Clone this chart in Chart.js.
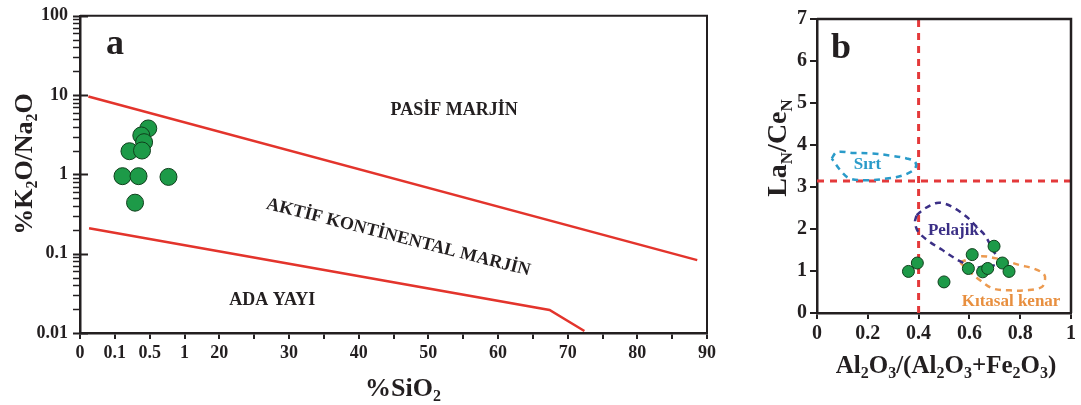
<!DOCTYPE html>
<html>
<head>
<meta charset="utf-8">
<title>Tektonik ortam diyagramları</title>
<script src="https://cdn.jsdelivr.net/npm/chart.js@4/dist/chart.umd.min.js"></script>
<style>
  html, body { margin: 0; padding: 0; background: #fff; }
  #wrap { position: relative; width: 1081px; height: 405px; overflow: hidden; }
  #panelA { position: absolute; left: 0; top: 0; width: 720px; height: 405px; }
  #panelB { position: absolute; left: 720px; top: 0; width: 361px; height: 405px; }
</style>
</head>
<body>
<div id="wrap">
  <canvas id="panelA" width="720" height="405"></canvas>
  <canvas id="panelB" width="361" height="405"></canvas>
</div>
<script>
// ---------- Panel a: K2O/Na2O vs SiO2 ----------
const siO2TickValues = [0, 5, 10, 15, 20, 25, 30, 35, 40, 45, 50, 55, 60, 65, 70, 75, 80, 85, 90];
const siO2TickLabels = ['0', '0.1', '0.5', '1', '20', '', '30', '', '40', '', '50', '', '60', '', '70', '', '80', '', '90'];
const ratioTickValues = [0.01, 0.1, 1, 10, 100];
const ratioTickLabels = ['0.01', '0.1', '1', '10', '100'];

const sampleSiO2 = [9.8, 8.8, 9.2, 7.1, 8.9, 6.1, 8.4, 12.7, 7.9];
const sampleK2ONa2O = [3.8, 3.1, 2.55, 1.96, 2.0, 0.95, 0.95, 0.93, 0.44];

const passiveActiveSiO2 = [1.2, 88.6];
const passiveActiveRatio = [9.6, 0.083];
const activeArcSiO2 = [1.3, 67.4, 72.4];
const activeArcRatio = [0.21, 0.0195, 0.0106];

// ---------- Panel b: LaN/CeN vs Al2O3/(Al2O3+Fe2O3) ----------
const alTickValues = [0, 0.2, 0.4, 0.6, 0.8, 1];
const alTickLabels = ['0', '0.2', '0.4', '0.6', '0.8', '1'];
const laCeTickValues = [0, 1, 2, 3, 4, 5, 6, 7];
const laCeTickLabels = ['0', '1', '2', '3', '4', '5', '6', '7'];

const sampleAlRatio = [0.36, 0.395, 0.50, 0.596, 0.611, 0.652, 0.672, 0.697, 0.73, 0.756];
const sampleLaCe = [0.99, 1.19, 0.74, 1.06, 1.39, 0.98, 1.06, 1.59, 1.19, 0.99];

const alLimit = 0.4;
const laCeLimit = 3.14;

const sirtAl = [0.058, 0.078, 0.143, 0.215, 0.287, 0.353, 0.386, 0.386, 0.34, 0.274, 0.196, 0.13, 0.097, 0.058];
const sirtLaCe = [3.68, 3.83, 3.81, 3.80, 3.75, 3.68, 3.60, 3.44, 3.28, 3.20, 3.16, 3.20, 3.36, 3.68];

const pelajikAl = [0.392, 0.425, 0.471, 0.504, 0.543, 0.589, 0.629, 0.661, 0.693, 0.72, 0.615, 0.57, 0.53, 0.491, 0.445, 0.399, 0.386, 0.392];
const pelajikLaCe = [2.33, 2.49, 2.62, 2.60, 2.49, 2.29, 2.05, 1.85, 1.49, 1.20, 1.08, 1.21, 1.35, 1.51, 1.69, 1.93, 2.16, 2.33];

const kitasalAl = [0.563, 0.642, 0.72, 0.799, 0.852, 0.891, 0.898, 0.885, 0.826, 0.76, 0.694, 0.642, 0.594, 0.563];
const kitasalLaCe = [1.21, 1.35, 1.28, 1.14, 1.06, 0.94, 0.82, 0.62, 0.54, 0.54, 0.58, 0.78, 1.02, 1.21];

// ---------- helpers ----------
const zip = (xs, ys) => xs.map((x, i) => ({ x: x, y: ys[i] }));
const INK = '#231f20';
const SERIF = '"Liberation Serif", "Times New Roman", serif';
const bold = (size) => `bold ${size}px ${SERIF}`;

// text with single-character subscripts marked by "_"
function richParts(str) {
  const parts = [];
  for (let i = 0; i < str.length; i++) {
    if (str[i] === '_') { parts.push({ t: str[i + 1], sub: true }); i++; }
    else if (parts.length && !parts[parts.length - 1].sub) parts[parts.length - 1].t += str[i];
    else parts.push({ t: str[i], sub: false });
  }
  return parts;
}
function drawRich(ctx, str, size, cx, cy, rot) {
  const parts = richParts(str);
  const subSize = Math.round(size * 0.62);
  ctx.save();
  ctx.translate(cx, cy);
  ctx.rotate(rot);
  ctx.fillStyle = INK;
  ctx.textAlign = 'left';
  ctx.textBaseline = 'alphabetic';
  let w = 0;
  parts.forEach(p => { ctx.font = bold(p.sub ? subSize : size); p.w = ctx.measureText(p.t).width; w += p.w; });
  let x = -w / 2;
  parts.forEach(p => {
    ctx.font = bold(p.sub ? subSize : size);
    ctx.fillText(p.t, x, p.sub ? size * 0.2 : 0);
    x += p.w;
  });
  ctx.restore();
}
function label(ctx, text, x, y, size, color, rot) {
  ctx.save();
  ctx.translate(x, y);
  ctx.rotate(rot || 0);
  ctx.font = bold(size);
  ctx.fillStyle = color;
  ctx.textAlign = 'center';
  ctx.textBaseline = 'middle';
  ctx.fillText(text, 0, 0);
  ctx.restore();
}
function frame(chart, width) {
  const a = chart.chartArea, ctx = chart.ctx;
  ctx.save();
  ctx.strokeStyle = INK;
  ctx.lineWidth = width;
  ctx.beginPath();
  ctx.moveTo(a.left, a.top);
  ctx.lineTo(a.right, a.top);
  ctx.lineTo(a.right, a.bottom);
  ctx.stroke();
  ctx.restore();
}
const tickFont = (size) => ({ family: SERIF, size: size, weight: 'bold' });

const baseOptions = {
  responsive: false,
  animation: false,
  events: [],
  plugins: { legend: { display: false }, tooltip: { enabled: false } }
};

// ---------- Panel a chart ----------
const logTickValues = [];
for (let e = -2; e <= 1; e++) {
  for (let k = 1; k <= 9; k++) logTickValues.push(+(k * Math.pow(10, e)).toPrecision(3));
}
logTickValues.push(100);
const isRatioMajor = v => ratioTickValues.some(t => Math.abs(t - v) / t < 1e-6);

const panelAText = {
  id: 'panelAText',
  afterDraw(chart) {
    const ctx = chart.ctx, a = chart.chartArea;
    const xs = chart.scales.x, ys = chart.scales.y;
    frame(chart, 2);
    // log-axis tick comb: minor ticks outside, decade ticks crossing the axis
    ctx.save();
    ctx.strokeStyle = INK;
    logTickValues.forEach(v => {
      const py = Math.round(ys.getPixelForValue(v)) + 0.5;
      const major = isRatioMajor(v);
      ctx.lineWidth = major ? 2 : 1.5;
      ctx.beginPath();
      ctx.moveTo(a.left - 7, py);
      ctx.lineTo(major ? a.left + 8 : a.left, py);
      ctx.stroke();
    });
    ctx.restore();
    // panel letter
    ctx.save();
    ctx.font = bold(36); ctx.fillStyle = INK; ctx.textBaseline = 'alphabetic';
    ctx.fillText('a', a.left + 26, a.top + 38);
    ctx.restore();
    // field names
    label(ctx, 'PASİF MARJİN', xs.getPixelForValue(53.7), ys.getPixelForValue(6.4), 18, INK, 0);
    label(ctx, 'AKTİF KONTİNENTAL MARJİN', xs.getPixelForValue(45.7), ys.getPixelForValue(0.16), 18, INK, 14.3 * Math.PI / 180);
    label(ctx, 'ADA YAYI', xs.getPixelForValue(27.6), ys.getPixelForValue(0.026), 18, INK, 0);
    // axis titles
    drawRich(ctx, '%K_2O/Na_2O', 26, 32, 164, -Math.PI / 2);
    drawRich(ctx, '%SiO_2', 26, 403, 396, 0);
  }
};

new Chart(document.getElementById('panelA'), {
  type: 'scatter',
  data: {
    datasets: [
      {
        data: zip(sampleSiO2, sampleK2ONa2O),
        pointRadius: 8.5,
        backgroundColor: '#1d9a48',
        borderColor: '#0f3f1c',
        borderWidth: 1,
        order: 0
      },
      {
        type: 'line',
        data: zip(passiveActiveSiO2, passiveActiveRatio),
        borderColor: '#e3342c',
        borderWidth: 2.5,
        pointRadius: 0,
        fill: false,
        order: 1
      },
      {
        type: 'line',
        data: zip(activeArcSiO2, activeArcRatio),
        borderColor: '#e3342c',
        borderWidth: 2.5,
        pointRadius: 0,
        fill: false,
        order: 1
      }
    ]
  },
  options: Object.assign({}, baseOptions, {
    layout: { padding: { left: 0, top: 15, right: 10, bottom: 0 } },
    scales: {
      x: {
        type: 'linear', min: 0, max: 90,
        afterBuildTicks: s => { s.ticks = siO2TickValues.map(v => ({ value: v })); },
        afterFit: s => { s.height = 72; },
        ticks: {
          autoSkip: false, maxRotation: 0, padding: 4, color: INK, font: tickFont(18),
          callback: (v, i) => siO2TickLabels[i]
        },
        grid: { drawOnChartArea: false, tickLength: 6, color: INK, lineWidth: 2 },
        border: { width: 2.5, color: INK }
      },
      y: {
        type: 'logarithmic', min: 0.01, max: 100,
        afterBuildTicks: s => { s.ticks = ratioTickValues.map(v => ({ value: v, major: true })); },
        afterFit: s => { s.width = 80; },
        ticks: {
          autoSkip: false, padding: 5, color: INK, font: tickFont(18),
          callback: (v, i) => ratioTickLabels[i]
        },
        grid: { drawOnChartArea: false, tickLength: 7, color: 'rgba(0,0,0,0)' },
        border: { width: 2.5, color: INK }
      }
    }
  }),
  plugins: [panelAText]
});

// ---------- Panel b chart ----------
const panelBText = {
  id: 'panelBText',
  afterDraw(chart) {
    const ctx = chart.ctx, a = chart.chartArea;
    const xs = chart.scales.x, ys = chart.scales.y;
    frame(chart, 2.5);
    ctx.save();
    ctx.font = bold(36); ctx.fillStyle = INK; ctx.textBaseline = 'alphabetic';
    ctx.fillText('b', a.left + 14, a.top + 39);
    ctx.restore();
    label(ctx, 'Sırt', xs.getPixelForValue(0.199), ys.getPixelForValue(3.54), 17, '#2a9bc9', 0);
    label(ctx, 'Pelajik', xs.getPixelForValue(0.537), ys.getPixelForValue(1.97), 17, '#3b2f86', 0);
    label(ctx, 'Kıtasal kenar', xs.getPixelForValue(0.764), ys.getPixelForValue(0.27), 17, '#e88f3f', 0);
    drawRich(ctx, 'La_N/Ce_N', 28, 66, 148, -Math.PI / 2);
    drawRich(ctx, 'Al_2O_3/(Al_2O_3+Fe_2O_3)', 25, 226, 373, 0);
  }
};

const outline = (xs, ys, color) => ({
  type: 'line',
  data: zip(xs, ys),
  borderColor: color,
  borderWidth: 2.5,
  borderDash: [6, 5],
  pointRadius: 0,
  tension: 0.35,
  fill: false,
  order: 1
});

new Chart(document.getElementById('panelB'), {
  type: 'scatter',
  data: {
    datasets: [
      {
        data: zip(sampleAlRatio, sampleLaCe),
        pointRadius: 6,
        backgroundColor: '#1d9a48',
        borderColor: '#0f3f1c',
        borderWidth: 1,
        order: 0
      },
      outline(sirtAl, sirtLaCe, '#2a9bc9'),
      outline(pelajikAl, pelajikLaCe, '#3b2f86'),
      outline(kitasalAl, kitasalLaCe, '#ec9a50'),
      {
        type: 'line',
        data: [{ x: alLimit, y: 0 }, { x: alLimit, y: 7 }],
        borderColor: '#e4393a', borderWidth: 3, borderDash: [7, 6],
        pointRadius: 0, fill: false, order: 2
      },
      {
        type: 'line',
        data: [{ x: 0, y: laCeLimit }, { x: 1, y: laCeLimit }],
        borderColor: '#e4393a', borderWidth: 3, borderDash: [7, 6],
        pointRadius: 0, fill: false, order: 2
      }
    ]
  },
  options: Object.assign({}, baseOptions, {
    layout: { padding: { left: 0, top: 19, right: 10, bottom: 0 } },
    scales: {
      x: {
        type: 'linear', min: 0, max: 1,
        afterBuildTicks: s => { s.ticks = alTickValues.map(v => ({ value: v })); },
        afterFit: s => { s.height = 92; },
        ticks: {
          autoSkip: false, maxRotation: 0, padding: 3, color: INK, font: tickFont(20),
          callback: (v, i) => alTickLabels[i]
        },
        grid: { drawOnChartArea: false, tickLength: 6, color: INK, lineWidth: 2 },
        border: { width: 2.5, color: INK }
      },
      y: {
        type: 'linear', min: 0, max: 7,
        afterBuildTicks: s => { s.ticks = laCeTickValues.map(v => ({ value: v })); },
        afterFit: s => { s.width = 97; },
        ticks: {
          autoSkip: false, padding: 3, color: INK, font: tickFont(20),
          callback: (v, i) => laCeTickLabels[i]
        },
        grid: { drawOnChartArea: false, tickLength: 7, color: INK, lineWidth: 2 },
        border: { width: 2.5, color: INK }
      }
    }
  }),
  plugins: [panelBText]
});
</script>
</body>
</html>
